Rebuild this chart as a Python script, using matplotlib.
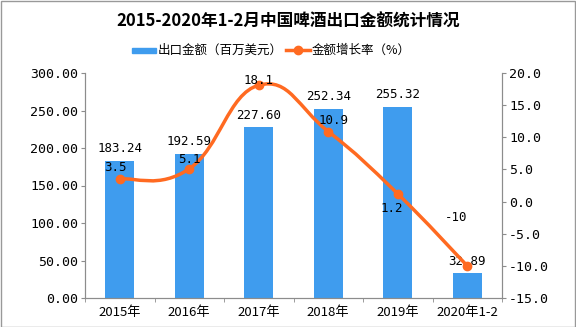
import numpy as np
import matplotlib.pyplot as plt
from matplotlib.path import Path
from matplotlib.patches import PathPatch, Rectangle

plt.rcParams['font.family'] = ['Noto Sans CJK SC', 'DejaVu Sans']

years = ['2015年', '2016年', '2017年', '2018年', '2019年', '2020年1-2']
export = [183.24, 192.59, 227.60, 252.34, 255.32, 32.89]
growth = [3.5, 5.1, 18.1, 10.9, 1.2, -10]
growth_labels = ['3.5', '5.1', '18.1', '10.9', '1.2', '-10']

bar_c = '#3F9CEE'
line_c = '#FF6A21'
axis_c = '#8C8C8C'

#----------------
fig = plt.figure(figsize=(5.76, 3.27), dpi=100)
ax = fig.add_axes([85/576, 1-298/327, 417/576, 225/327])
ax2 = ax.twinx()

x = np.arange(len(years))
ax.bar(x, export, width=0.42, color=bar_c, zorder=2)
for xi, v in zip(x, export):
	ax.annotate(f'{v:.2f}', (xi, v), xytext=(0, 4), textcoords='offset points',
				ha='center', va='bottom', fontsize=9, family='DejaVu Sans Mono')

ax.set_xlim(-0.5, len(years)-0.5)
ax.set_ylim(0, 300)
ax.set_yticks(np.arange(0, 301, 50))
ax.set_yticklabels([f'{t:.2f}' for t in np.arange(0, 301, 50)], family='DejaVu Sans Mono', fontsize=9.5)
ax.set_xticks(x)
ax.set_xticklabels(years, fontsize=9.5)
ax.set_xticks(np.arange(-0.5, len(years), 1), minor=True)
ax.tick_params(axis='x', which='major', length=0, pad=6)
ax.tick_params(axis='x', which='minor', length=3, color=axis_c)
ax.tick_params(axis='y', length=3, color=axis_c, pad=2)

ax2.set_ylim(-15, 20)
ax2.set_yticks(np.arange(-15, 21, 5))
ax2.set_yticklabels([f'{t:.1f}' for t in np.arange(-15, 21, 5)], family='DejaVu Sans Mono', fontsize=9.5)
ax2.tick_params(axis='y', length=3, color=axis_c, pad=2)

for a in (ax, ax2):
	a.spines['top'].set_visible(False)
	for s in ('left', 'right', 'bottom'):
		a.spines[s].set_color(axis_c)

# smooth growth curve (bezier through the points)
pts = np.column_stack([x, growth]).astype(float)
verts = [tuple(pts[0])]
codes = [Path.MOVETO]
t = 0.22
for i in range(len(pts)-1):
	p0 = pts[max(i-1, 0)]
	p1 = pts[i]
	p2 = pts[i+1]
	p3 = pts[min(i+2, len(pts)-1)]
	c1 = p1 + (p2 - p0) * t
	c2 = p2 - (p3 - p1) * t
	verts += [tuple(c1), tuple(c2), tuple(p2)]
	codes += [Path.CURVE4]*3
ax2.add_patch(PathPatch(Path(verts, codes), fill=False, edgecolor=line_c, lw=2.5, zorder=3))
ax2.plot(x, growth, 'o', color=line_c, ms=6, zorder=4)

offsets = [(-3, 4), (0, 2), (0, -1), (4, 3), (-4, -6), (-8, 30)]
for xi, g, lab, off in zip(x, growth, growth_labels, offsets):
	ax2.annotate(lab, (xi, g), xytext=off, textcoords='offset points',
				 ha='center', va='bottom' if off[1] > 0 or off[0] == 0 else 'top',
				 fontsize=9, family='DejaVu Sans Mono', zorder=5)

#----------------
fig.text(0.5, 1-22/327, '2015-2020年1-2月中国啤酒出口金额统计情况', ha='center', va='center',
		 fontsize=12, fontweight='bold')

# legend
fig.patches.append(Rectangle((132/576, 1-53/327), 24/576, 5/327, transform=fig.transFigure,
							 color=bar_c))
fig.text(158/576, 1-50/327, '出口金额（百万美元）', va='center', fontsize=9)
fig.lines.append(plt.Line2D([286/576, 310/576], [1-50/327, 1-50/327], transform=fig.transFigure,
							color=line_c, lw=2.5))
fig.lines.append(plt.Line2D([298/576], [1-50/327], transform=fig.transFigure, marker='o',
							color=line_c, ms=6))
fig.text(312/576, 1-50/327, '金额增长率（%）', va='center', fontsize=9)

# figure border
fig.patches.append(Rectangle((0.5/576, 0.5/327), 574.5/576, 325.5/327, transform=fig.transFigure,
							 fill=False, edgecolor='#999999', lw=1))

fig.savefig('out.png', dpi=100)
